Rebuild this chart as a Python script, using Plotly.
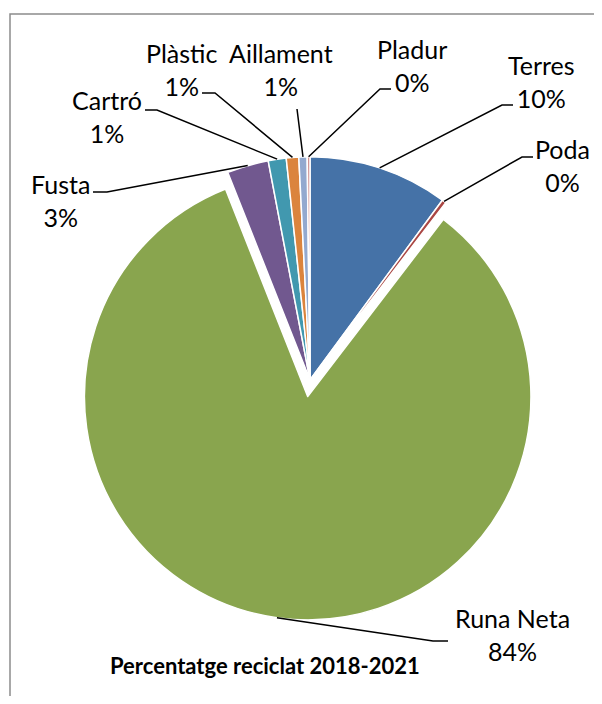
import math

import plotly.graph_objects as go

# data
categories = ["Terres", "Poda", "Runa Neta", "Fusta", "Cartró", "Plàstic", "Aillament", "Pladur"]
shares = [10.1, 0.3, 83.6, 3.0, 1.3, 0.9, 0.6, 0.2]
colors = ["#4572A7", "#AA4643", "#89A54E", "#71588F", "#4198AF", "#DB843D", "#93A9CF", "#D19392"]
pulls = [0, 0, 0.075, 0, 0, 0, 0, 0]
title_text = "Percentatge reciclat 2018-2021"

# the page body has an 8px margin on every side; keep the figure inside it
# so that no scrollbar shows up
PAGE_W, PAGE_H, BODY = 602, 704, 8
W, H = PAGE_W - 2 * BODY, PAGE_H - 2 * BODY
CX, CY, HALF = 310, 380, 240  # pie domain centre / half size in page px

# label placement in page px: text centre, elbow point, end of the horizontal tick
label_pos = {
    "Terres": ((541, 82), (502, 105), 513),
    "Poda": ((562, 166), (522, 157), 533),
    "Runa Neta": ((512, 634), (433, 641), 448),
    "Fusta": ((60, 201), (107, 192), 93),
    "Cartró": ((107, 117), (157, 110), 145),
    "Plàstic": ((181, 70), (215, 93), 202),
    "Aillament": ((281, 70), (297, 109), None),
    "Pladur": ((412, 65), (380, 89), 391),
}


def px(x):
    return (x - BODY) / W


def py(y):
    return 1 - (y - BODY) / H


fig = go.Figure(
    go.Pie(
        labels=categories,
        values=shares,
        sort=False,
        direction="clockwise",
        rotation=0,
        pull=pulls,
        marker={"colors": colors, "line": {"color": "white", "width": 1.5}},
        textinfo="none",
        hoverinfo="label+percent",
        domain={"x": [px(CX - HALF), px(CX + HALF)], "y": [py(CY + HALF), py(CY - HALF)]},
    )
)

# leader lines and labels, anchored on each slice's outer edge
radius = HALF / (1 + max(pulls))
total = sum(shares)
cum = 0
shapes = []
annotations = []
for name, val, pull in zip(categories, shares, pulls):
    mid = (cum + val / 2) / total * 2 * math.pi
    cum += val
    r = radius * (1 + pull)
    ax = CX + r * math.sin(mid)
    ay = CY - r * math.cos(mid)
    (tx, ty), (ex, ey), hx = label_pos[name]
    path = f"M {px(ax)} {py(ay)} L {px(ex)} {py(ey)}"
    if hx is not None:
        path += f" L {px(hx)} {py(ey)}"
    shapes.append(
        {"type": "path", "xref": "paper", "yref": "paper", "path": path,
         "line": {"color": "black", "width": 1.5}}
    )
    annotations.append(
        {"x": px(tx), "y": py(ty), "xref": "paper", "yref": "paper",
         "text": f"{name}<br>{round(val / total * 100)}%", "showarrow": False,
         "font": {"size": 25, "color": "black", "family": "Lato"},
         "xanchor": "center", "yanchor": "middle"}
    )

annotations.append(
    {"x": px(265), "y": py(665), "xref": "paper", "yref": "paper",
     "text": f"<b>{title_text}</b>", "showarrow": False,
     "font": {"size": 22, "color": "black", "family": "Lato"},
     "xanchor": "center", "yanchor": "middle"}
)

# chart border (runs off the right and bottom edges as in the original)
shapes.append(
    {"type": "rect", "xref": "paper", "yref": "paper",
     "x0": px(10), "x1": px(PAGE_W + 10), "y0": py(PAGE_H + 10), "y1": py(14),
     "line": {"color": "#8c8c8c", "width": 1.5}}
)

fig.update_layout(
    width=W,
    height=H,
    margin={"l": 0, "r": 0, "t": 0, "b": 0},
    paper_bgcolor="white",
    plot_bgcolor="white",
    showlegend=False,
    shapes=shapes,
    annotations=annotations,
)

fig.write_html("out.html")
